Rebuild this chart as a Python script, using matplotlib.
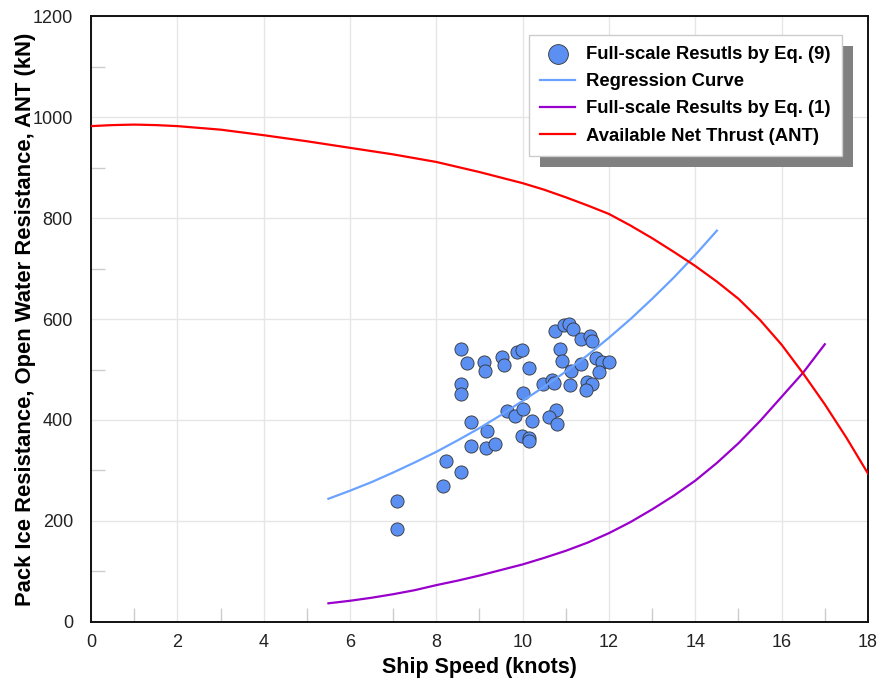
import matplotlib.pyplot as plt
from matplotlib.patches import Rectangle

plt.rcParams['font.family'] = ['Liberation Sans', 'DejaVu Sans']

# Full-scale results by Eq. (9) - scatter points (speed in knots, resistance in kN)
speed_pts = [7.10, 7.10, 8.16, 8.22, 8.57, 8.57, 8.71, 8.57, 8.57, 8.80,
             8.80, 9.10, 9.12, 9.18, 9.15, 9.37, 9.51, 9.56, 9.64, 9.83,
             9.87, 9.98, 10.15, 10.01, 10.01, 10.22, 9.98, 10.14, 10.15, 10.48,
             10.69, 10.73, 10.77, 10.61, 10.79, 10.74, 10.96, 11.07, 11.16, 10.87,
             10.91, 11.11, 11.10, 11.34, 11.36, 11.57, 11.61, 11.70, 11.84, 12.01,
             11.77, 11.50, 11.61, 11.47]
resist_pts = [240, 184, 270, 318, 298, 540, 512, 471, 451, 397,
              349, 515, 498, 378, 344, 353, 524, 508, 418, 407,
              534, 539, 503, 453, 421, 399, 368, 364, 359, 471,
              479, 473, 420, 405, 392, 577, 589, 590, 580, 541,
              517, 497, 470, 511, 561, 566, 557, 523, 514, 515,
              495, 475, 472, 459]

# Regression curve
reg_speed = [5.5, 6.0, 6.5, 7.0, 7.5, 8.0, 8.5, 9.0, 9.5, 10.0,
             10.5, 11.0, 11.5, 12.0, 12.5, 13.0, 13.5, 14.0, 14.5]
reg_resist = [244, 260, 277, 296, 316, 337, 360, 384, 410, 438,
              466, 496, 528, 563, 600, 640, 682, 727, 775]

# Full-scale results by Eq. (1)
eq1_speed = [5.5, 6.0, 6.5, 7.0, 7.5, 8.0, 8.5, 9.0, 9.5, 10.0, 10.5, 11.0,
             11.5, 12.0, 12.5, 13.0, 13.5, 14.0, 14.5, 15.0, 15.5, 16.0, 16.5, 17.0]
eq1_resist = [37, 42, 48, 55, 63, 73, 82, 92, 103, 114, 127, 141,
              157, 176, 198, 223, 250, 280, 315, 354, 398, 446, 494, 550]

# Available net thrust
ant_speed = [0, 0.5, 1, 1.5, 2, 3, 4, 5, 6, 7, 8, 8.5, 9, 9.5, 10, 10.5, 11, 11.5,
             12, 12.5, 13, 13.5, 14, 14.5, 15, 15.5, 16, 16.5, 17, 17.5, 18]
ant_thrust = [982, 984, 985, 984, 982, 975, 964, 952, 939, 926, 911, 901, 891, 880,
              869, 856, 841, 825, 808, 785, 760, 733, 705, 674, 640, 598, 549, 492,
              431, 365, 294]

fig = plt.figure(figsize=(8.82, 6.82), dpi=100)
ax = fig.add_axes([0.1032, 0.0880, 0.8809, 0.8885])

ax.grid(True, color='#e6e6e6', linewidth=1.0, zorder=0)
ax.set_axisbelow(True)

ax.scatter(speed_pts, resist_pts, s=90, color='#5b8ff2', edgecolors='#333333',
           linewidths=0.6, zorder=3, label='Full-scale Resutls by Eq. (9)')
ax.plot(reg_speed, reg_resist, color='#6aa2ff', linewidth=1.6, zorder=4,
        label='Regression Curve')
ax.plot(eq1_speed, eq1_resist, color='#9900cc', linewidth=1.6, zorder=4,
        label='Full-scale Results by Eq. (1)')
ax.plot(ant_speed, ant_thrust, color='#ff0000', linewidth=1.6, zorder=4,
        label='Available Net Thrust (ANT)')

ax.set_xlim(0, 18)
ax.set_ylim(0, 1200)
ax.set_xticks(range(0, 19, 2))
ax.set_xticks(range(0, 19, 1), minor=True)
ax.set_yticks(range(0, 1201, 200))
ax.set_yticks(range(0, 1201, 100), minor=True)
ax.tick_params(which='both', direction='in', labelsize=13, colors='#222222')
ax.tick_params(which='major', length=0)
ax.tick_params(axis='x', which='major', pad=9)
ax.tick_params(axis='y', which='major', pad=13)
ax.tick_params(which='minor', length=10, color='#cccccc', width=1)
for s in ax.spines.values():
    s.set_linewidth(1.4)
    s.set_color('#111111')

ax.set_xlabel('Ship Speed (knots)', fontsize=15.5, fontweight='bold', labelpad=4)
ax.set_ylabel('Pack Ice Resistance, Open Water Resistance, ANT (kN)',
              fontsize=15.8, fontweight='bold', labelpad=-2.5)

leg = ax.legend(loc='upper right', bbox_to_anchor=(0.9665, 0.9686),
                borderaxespad=0, fancybox=False, framealpha=1,
                edgecolor='#cccccc', markerscale=1.5,
                prop={'size': 13.3, 'weight': 'bold'}, handlelength=1.9,
                handletextpad=0.6, labelspacing=0.55, borderpad=0.6)
leg.set_zorder(10)

# gray drop shadow behind the legend
fig.canvas.draw()
bb = leg.get_window_extent()
inv = fig.transFigure.inverted()
(x0, y0) = inv.transform((bb.x0 + 11, bb.y0 - 11))
(x1, y1) = inv.transform((bb.x1 + 11, bb.y1 - 11))
ax.add_patch(Rectangle((x0, y0), x1 - x0, y1 - y0, transform=fig.transFigure,
                       facecolor='#808080', edgecolor='none', zorder=9, clip_on=False))

fig.savefig('out.png', dpi=100)
